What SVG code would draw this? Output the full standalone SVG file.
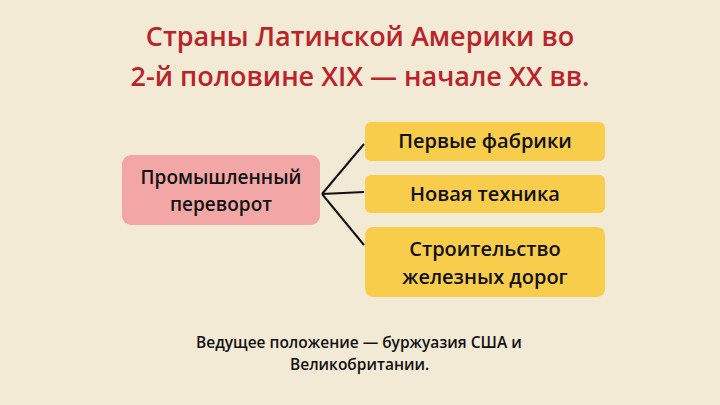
<svg xmlns="http://www.w3.org/2000/svg" width="720" height="405" viewBox="0 0 720 405">
<style>
.t{font-family:"Open Sans","Noto Sans",sans-serif;fill:#111;font-weight:600}
.title{font-family:"Open Sans","Noto Sans",sans-serif;fill:#b8242a;font-size:27px;font-weight:600;text-anchor:middle}
.y{fill:#f8cd4c}
</style>
<rect width="720" height="405" fill="#f3ead6"/>
<text class="title" x="360" y="46">Страны Латинской Америки во</text>
<text class="title" x="360" y="86">2-й половине XIX — начале XX вв.</text>
<g id="connectors" stroke="#111" stroke-width="2" fill="none">
<line x1="322" y1="194" x2="364" y2="144"/>
<line x1="322" y1="194" x2="364" y2="192"/>
<line x1="322" y1="194" x2="364" y2="245"/>
</g>
<g id="n0"><rect x="122" y="155" width="198" height="70" rx="9" fill="#f2a7a6"/>
<text class="t" font-size="19" text-anchor="middle" x="221" y="184">Промышленный</text>
<text class="t" font-size="19" text-anchor="middle" x="221" y="211">переворот</text></g>
<g id="n1"><rect class="y" x="365" y="122" width="240" height="39" rx="6"/>
<text class="t" font-size="20" text-anchor="middle" x="485" y="148">Первые фабрики</text></g>
<g id="n2"><rect class="y" x="365" y="175" width="240" height="38" rx="6"/>
<text class="t" font-size="20" text-anchor="middle" x="485" y="201">Новая техника</text></g>
<g id="n3"><rect class="y" x="365" y="227" width="240" height="70" rx="8"/>
<text class="t" font-size="20" text-anchor="middle" x="485" y="256">Строительство</text>
<text class="t" font-size="20" text-anchor="middle" x="485" y="284">железных дорог</text></g>
<text class="t" font-size="15.5" x="196" y="348">Ведущее положение — буржуазия США и</text>
<text class="t" font-size="15.5" x="290" y="370">Великобритании.</text>
</svg>
